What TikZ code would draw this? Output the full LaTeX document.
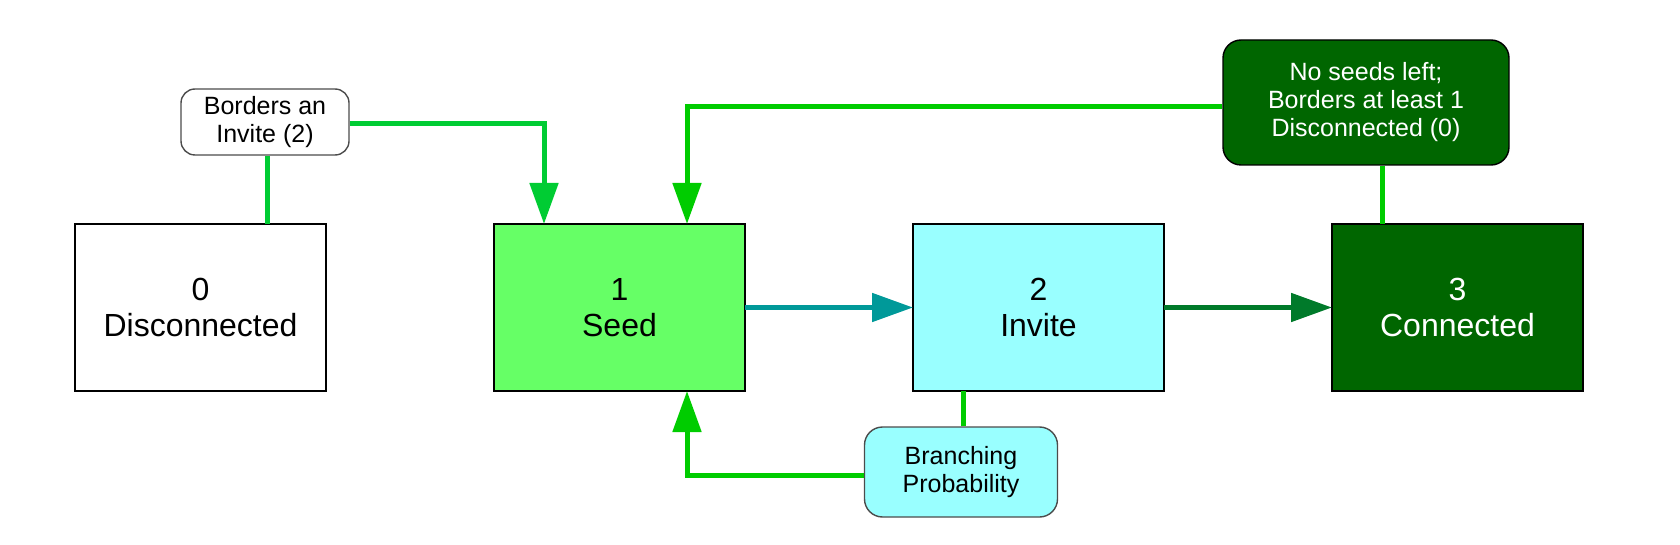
\documentclass[tikz,border=0pt]{standalone}
\usepackage{xcolor}
\usepackage{fontspec}
\setmainfont{Liberation Sans}
\usepackage{tikz}
\usetikzlibrary{arrows.meta}

\definecolor{seedgreen}{HTML}{66FF66}
\definecolor{invitecyan}{HTML}{99FFFF}
\definecolor{connectgreen}{HTML}{006600}
\definecolor{wireteal}{HTML}{009999}
\definecolor{wiredark}{HTML}{007A2A}
\definecolor{wiregreen}{HTML}{00CC00}
\definecolor{wirelime}{HTML}{00CC33}

\begin{document}
\begin{tikzpicture}[
    x=0.5pt, y=-0.5pt,
    >={Triangle[length=20.5pt,width=14pt]},
    state/.style={rectangle, draw=black, line width=1pt, outer sep=0pt, minimum width=125.5pt,
        minimum height=83.5pt, align=center, font=\fontsize{16pt}{18.3pt}\selectfont},
    cond/.style={rectangle, rounded corners=7pt, draw=black!70, line width=0.7pt,
        align=center, inner sep=0pt, font=\fontsize{12.5pt}{14pt}\selectfont},
    wire/.style={line width=2.5pt}
]
\useasboundingbox (0,0) rectangle (1680,545);

\node[state, fill=white] (s0) at (200.5,307.5) {0\\Disconnected};
\node[state, fill=seedgreen] (s1) at (619.5,307.5) {1\\Seed};
\node[state, fill=invitecyan] (s2) at (1038.5,307.5) {2\\Invite};
\node[state, fill=connectgreen, text=white] (s3) at (1457.5,307.5) {3\\Connected};

\node[cond, fill=white, minimum width=84pt, minimum height=33pt] (bordersInvite) at (265,122) {Borders an\\Invite (2)};
\node[cond, fill=connectgreen, draw=black, text=white, rounded corners=9pt,
    minimum width=143pt, minimum height=62.5pt] (noSeeds) at (1366,102.5)
    {No seeds left;\\Borders at least 1\\Disconnected (0)};
\node[cond, fill=invitecyan, rounded corners=9pt, minimum width=96.5pt,
    minimum height=45pt] (branching) at (961,472) {Branching\\Probability};

\draw[->, wire, wireteal] (s1.east) -- (s2.west);
\draw[->, wire, wiredark] (s2.east) -- (s3.west);

\draw[wire, wirelime] ([xshift=1pt]bordersInvite.south) -- ([xshift=1pt]bordersInvite.south |- s0.north);
\draw[->, wire, wirelime] ([yshift=-1pt]bordersInvite.east) -| ([xshift=-37.75pt]s1.north);

\draw[wire, wiregreen] ([xshift=8.25pt]noSeeds.south) -- ([xshift=8.25pt]noSeeds.south |- s3.north);
\draw[->, wire, wiregreen] ([yshift=-2.25pt]noSeeds.west) -| ([xshift=33.75pt]s1.north);

\draw[wire, wiregreen] ([xshift=1pt]branching.north) -- ([xshift=1pt]branching.north |- s2.south);
\draw[->, wire, wiregreen] ([yshift=-1.5pt]branching.west) -| ([xshift=33.75pt]s1.south);
\end{tikzpicture}
\end{document}
